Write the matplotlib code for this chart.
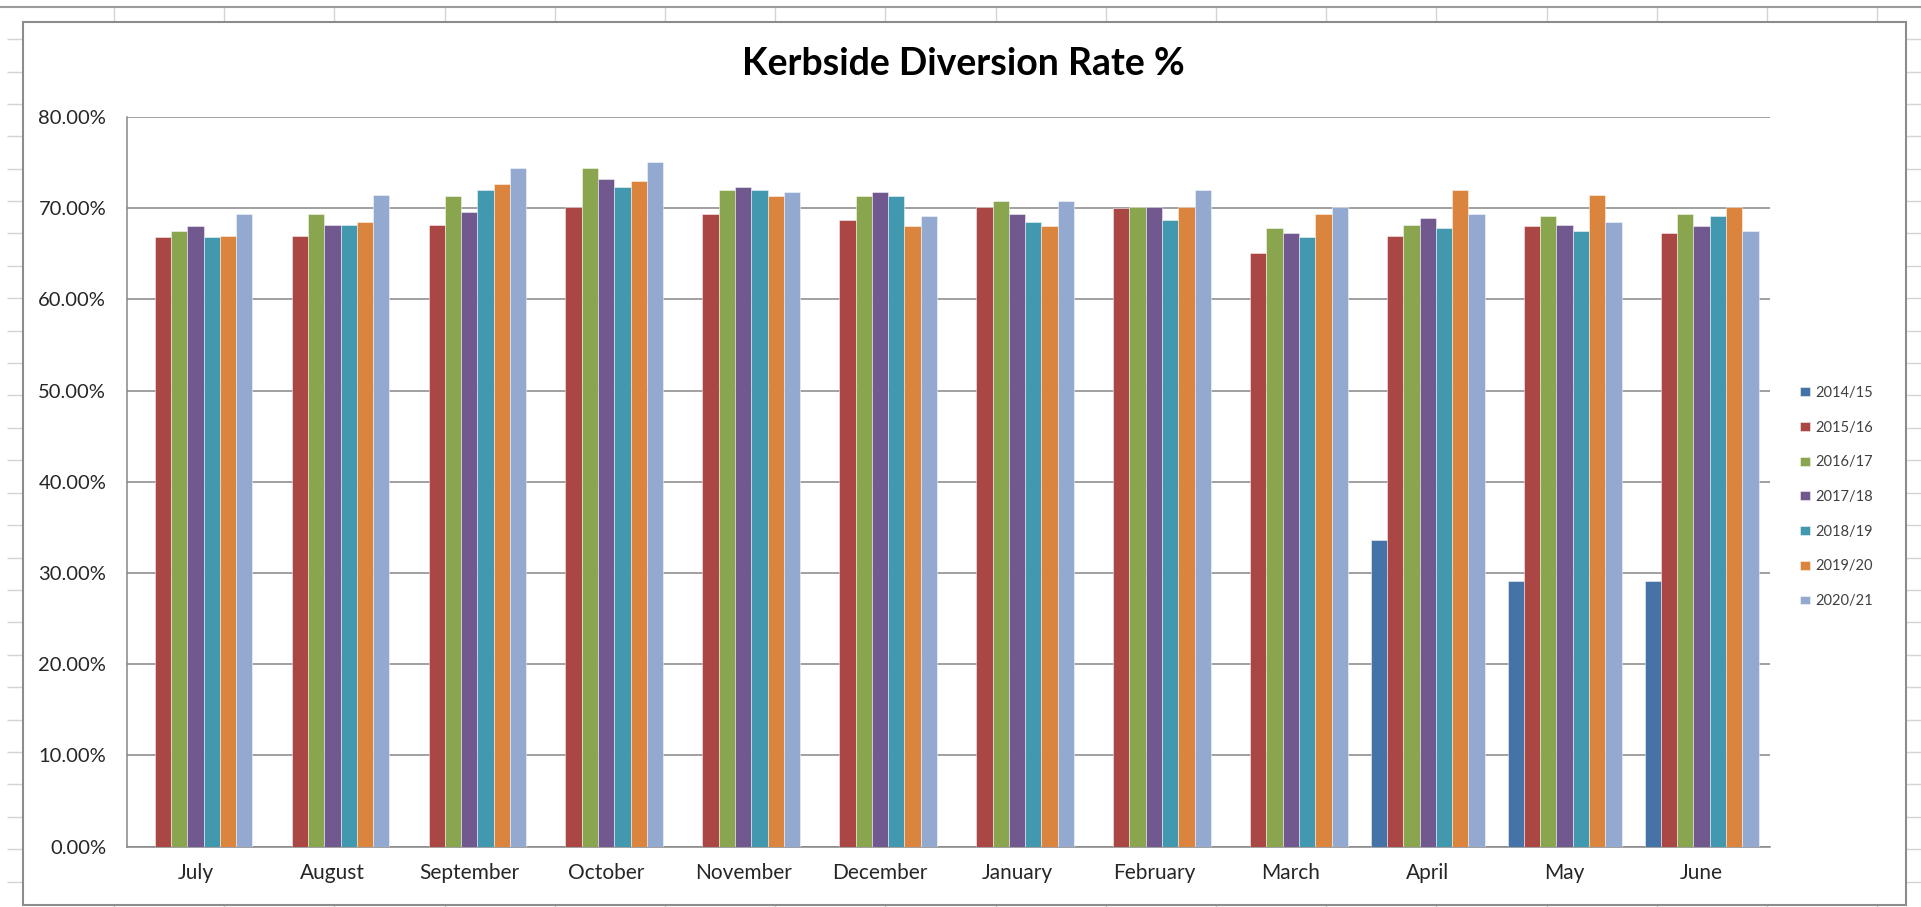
import numpy as np
import matplotlib
matplotlib.use('Agg')
import matplotlib.pyplot as plt
from matplotlib.patches import Rectangle

plt.rcParams['font.family'] = ['Lato', 'DejaVu Sans']

# data (percent)
months = ['July', 'August', 'September', 'October', 'November', 'December',
          'January', 'February', 'March', 'April', 'May', 'June']
seasons = ['2014/15', '2015/16', '2016/17', '2017/18', '2018/19', '2019/20', '2020/21']

rate_2014_15 = [np.nan, np.nan, np.nan, np.nan, np.nan, np.nan,
                np.nan, np.nan, np.nan, 33.6, 29.1, 29.1]
rate_2015_16 = [66.8, 67.0, 68.2, 70.1, 69.4, 68.7, 70.1, 70.0, 65.1, 67.0, 68.0, 67.3]
rate_2016_17 = [67.5, 69.4, 71.3, 74.4, 72.0, 71.3, 70.8, 70.1, 67.8, 68.2, 69.2, 69.4]
rate_2017_18 = [68.0, 68.2, 69.6, 73.2, 72.3, 71.8, 69.4, 70.1, 67.3, 68.9, 68.2, 68.0]
rate_2018_19 = [66.8, 68.2, 72.0, 72.3, 72.0, 71.3, 68.5, 68.7, 66.8, 67.8, 67.5, 69.2]
rate_2019_20 = [67.0, 68.5, 72.7, 73.0, 71.3, 68.0, 68.0, 70.1, 69.4, 72.0, 71.5, 70.1]
rate_2020_21 = [69.4, 71.5, 74.4, 75.1, 71.8, 69.2, 70.8, 72.0, 70.1, 69.4, 68.5, 67.5]

allRates = [rate_2014_15, rate_2015_16, rate_2016_17, rate_2017_18,
            rate_2018_19, rate_2019_20, rate_2020_21]
colors = ['#4572A7', '#AA4643', '#89A54E', '#71588F', '#4198AF', '#DB843D', '#93A9CF']

W, H = 1921, 907


def figBox(x0, y0, x1, y1):
    # pixel box (top-left origin) -> figure fraction rect
    return [x0 / W, 1 - y1 / H, (x1 - x0) / W, (y1 - y0) / H]


fig = plt.figure(figsize=(W / 100, H / 100), dpi=100)

#* spreadsheet background behind the chart object
bg = fig.add_axes([0, 0, 1, 1], zorder=-1)
bg.set_xlim(0, W)
bg.set_ylim(H, 0)
bg.axis('off')
rowY = 6.7 + 32.4 * np.arange(1, 29)
colX = 114 + 110.2 * np.arange(0, 18)
bg.hlines(rowY, 7, W, color='#d4d4d4', lw=1)
bg.vlines(colX, 6.7, H, color='#d4d4d4', lw=1)
bg.hlines(6.7, 0, W, color='#9b9b9b', lw=1.5)
bg.add_patch(Rectangle((23, 22), 1906 - 23, 905 - 22, facecolor='white',
                       edgecolor='#8c8c8c', lw=1.5, zorder=3))

#* the chart itself
ax = fig.add_axes(figBox(127, 117, 1770, 846.7), zorder=1)

x = np.arange(len(months))
barW = 0.119
for i, rates in enumerate(allRates):
    ax.bar(x + (i - 3) * barW, rates, width=barW, color=colors[i],
           edgecolor=(1, 1, 1, 0.55), linewidth=0.6, label=seasons[i], zorder=3)

ax.set_xlim(-0.5, len(months) - 0.5)
ax.set_ylim(0, 80)
ax.set_yticks(np.arange(0, 81, 10))
ax.set_yticklabels(['%.2f%%' % v for v in np.arange(0, 81, 10)])
ax.set_xticks(x)
ax.set_xticklabels(months)
ax.tick_params(axis='both', length=0, colors='#262626')
ax.tick_params(axis='y', pad=15, labelsize=14.5)
ax.tick_params(axis='x', pad=12, labelsize=15)

ax.grid(axis='y', color='#868686', lw=1.1, zorder=0)
ax.set_axisbelow(True)
for side in ['top', 'right']:
    ax.spines[side].set_visible(False)
for side in ['left', 'bottom']:
    ax.spines[side].set_color('#868686')
    ax.spines[side].set_linewidth(1.1)

fig.text(963 / W, 1 - 64 / H, 'Kerbside Diversion Rate %', ha='center', va='center',
         fontsize=27, fontweight='bold', color='black')

ax.legend(loc='center left', bbox_to_anchor=(1800 / W, 1 - 497 / H),
          bbox_transform=fig.transFigure, frameon=False, fontsize=10.5,
          handlelength=0.7, handleheight=0.55, handletextpad=0.35,
          labelspacing=1.42, borderpad=0, borderaxespad=0, labelcolor='#404040')

fig.savefig('out.png', dpi=100)
